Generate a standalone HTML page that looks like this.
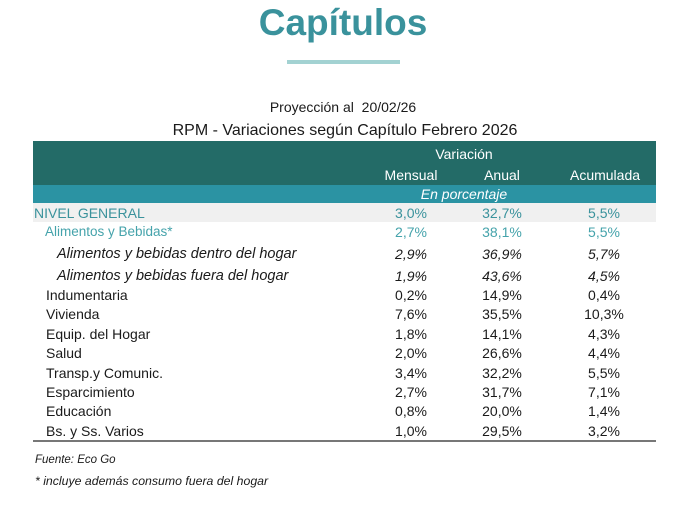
<!DOCTYPE html>
<html><head><meta charset="utf-8"><style>
body{margin:0;width:686px;height:506px;background:#fff;position:relative;overflow:hidden;font-family:"Liberation Sans",sans-serif;color:#1a1a1a}
.a{position:absolute;white-space:nowrap;line-height:1}
.c{transform:translateX(-50%)}
.r{font-size:14px}
.i{font-style:italic}
</style></head><body>
<div class="a c" style="left:343px;top:4px;font-size:37px;font-weight:bold;color:#3a929c">Capítulos</div>
<div class="a" style="left:287px;top:60px;width:113px;height:4px;background:#a3d2d2"></div>
<div class="a c" style="left:343px;top:100px;font-size:14px">Proyección al&nbsp; 20/02/26</div>
<div class="a c" style="left:345px;top:123px;font-size:16px">RPM - Variaciones según Capítulo Febrero 2026</div>
<div class="a" style="left:33px;top:141px;width:623px;height:44px;background:#236b67"></div>
<div class="a" style="left:33px;top:185px;width:623px;height:18px;background:#2b93a3"></div>
<div class="a" style="left:33px;top:203px;width:623px;height:19px;background:#f0f0f0"></div>
<div class="a c r" style="left:464px;top:147px;color:#fff">Variación</div>
<div class="a c r" style="left:411px;top:168px;color:#fff">Mensual</div>
<div class="a c r" style="left:502px;top:168px;color:#fff">Anual</div>
<div class="a c r" style="left:605px;top:168px;color:#fff">Acumulada</div>
<div class="a c r i" style="left:464px;top:187px;color:#fff">En porcentaje</div>
<div class="a" style="left:33px;top:440px;width:623px;height:2px;background:#777"></div>

<div class="a r" style="left:34px;top:206px;color:#3a929c">NIVEL GENERAL</div>
<div class="a c r" style="left:411px;top:206px;color:#3a929c">3,0%</div><div class="a c r" style="left:502px;top:206px;color:#3a929c">32,7%</div><div class="a c r" style="left:604px;top:206px;color:#3a929c">5,5%</div>
<div class="a r" style="left:45px;top:225px;color:#45a3ab;font-size:13.5px">Alimentos y Bebidas*</div>
<div class="a c r" style="left:411px;top:225px;color:#45a3ab">2,7%</div><div class="a c r" style="left:502px;top:225px;color:#45a3ab">38,1%</div><div class="a c r" style="left:604px;top:225px;color:#45a3ab">5,5%</div>

<div class="a r i" style="left:57px;top:247px;font-size:14.5px">Alimentos y bebidas dentro del hogar</div>
<div class="a c r i" style="left:411px;top:247px">2,9%</div><div class="a c r i" style="left:502px;top:247px">36,9%</div><div class="a c r i" style="left:604px;top:247px">5,7%</div>
<div class="a r i" style="left:57px;top:269px;font-size:14.5px">Alimentos y bebidas fuera del hogar</div>
<div class="a c r i" style="left:411px;top:269px">1,9%</div><div class="a c r i" style="left:502px;top:269px">43,6%</div><div class="a c r i" style="left:604px;top:269px">4,5%</div>

<div class="a r" style="left:46px;top:288px">Indumentaria</div>
<div class="a c r" style="left:411px;top:288px">0,2%</div><div class="a c r" style="left:502px;top:288px">14,9%</div><div class="a c r" style="left:604px;top:288px">0,4%</div>
<div class="a r" style="left:46px;top:307px">Vivienda</div>
<div class="a c r" style="left:411px;top:307px">7,6%</div><div class="a c r" style="left:502px;top:307px">35,5%</div><div class="a c r" style="left:604px;top:307px">10,3%</div>
<div class="a r" style="left:46px;top:327px">Equip. del Hogar</div>
<div class="a c r" style="left:411px;top:327px">1,8%</div><div class="a c r" style="left:502px;top:327px">14,1%</div><div class="a c r" style="left:604px;top:327px">4,3%</div>
<div class="a r" style="left:46px;top:346px">Salud</div>
<div class="a c r" style="left:411px;top:346px">2,0%</div><div class="a c r" style="left:502px;top:346px">26,6%</div><div class="a c r" style="left:604px;top:346px">4,4%</div>
<div class="a r" style="left:46px;top:366px">Transp.y Comunic.</div>
<div class="a c r" style="left:411px;top:366px">3,4%</div><div class="a c r" style="left:502px;top:366px">32,2%</div><div class="a c r" style="left:604px;top:366px">5,5%</div>
<div class="a r" style="left:46px;top:385px">Esparcimiento</div>
<div class="a c r" style="left:411px;top:385px">2,7%</div><div class="a c r" style="left:502px;top:385px">31,7%</div><div class="a c r" style="left:604px;top:385px">7,1%</div>
<div class="a r" style="left:46px;top:404px">Educación</div>
<div class="a c r" style="left:411px;top:404px">0,8%</div><div class="a c r" style="left:502px;top:404px">20,0%</div><div class="a c r" style="left:604px;top:404px">1,4%</div>
<div class="a r" style="left:46px;top:424px">Bs. y Ss. Varios</div>
<div class="a c r" style="left:411px;top:424px">1,0%</div><div class="a c r" style="left:502px;top:424px">29,5%</div><div class="a c r" style="left:604px;top:424px">3,2%</div>

<div class="a i" style="left:35px;top:455px;font-size:11.5px">Fuente: Eco Go</div>
<div class="a i" style="left:35px;top:475px;font-size:12.3px">* incluye además consumo fuera del hogar</div>
</body></html>
